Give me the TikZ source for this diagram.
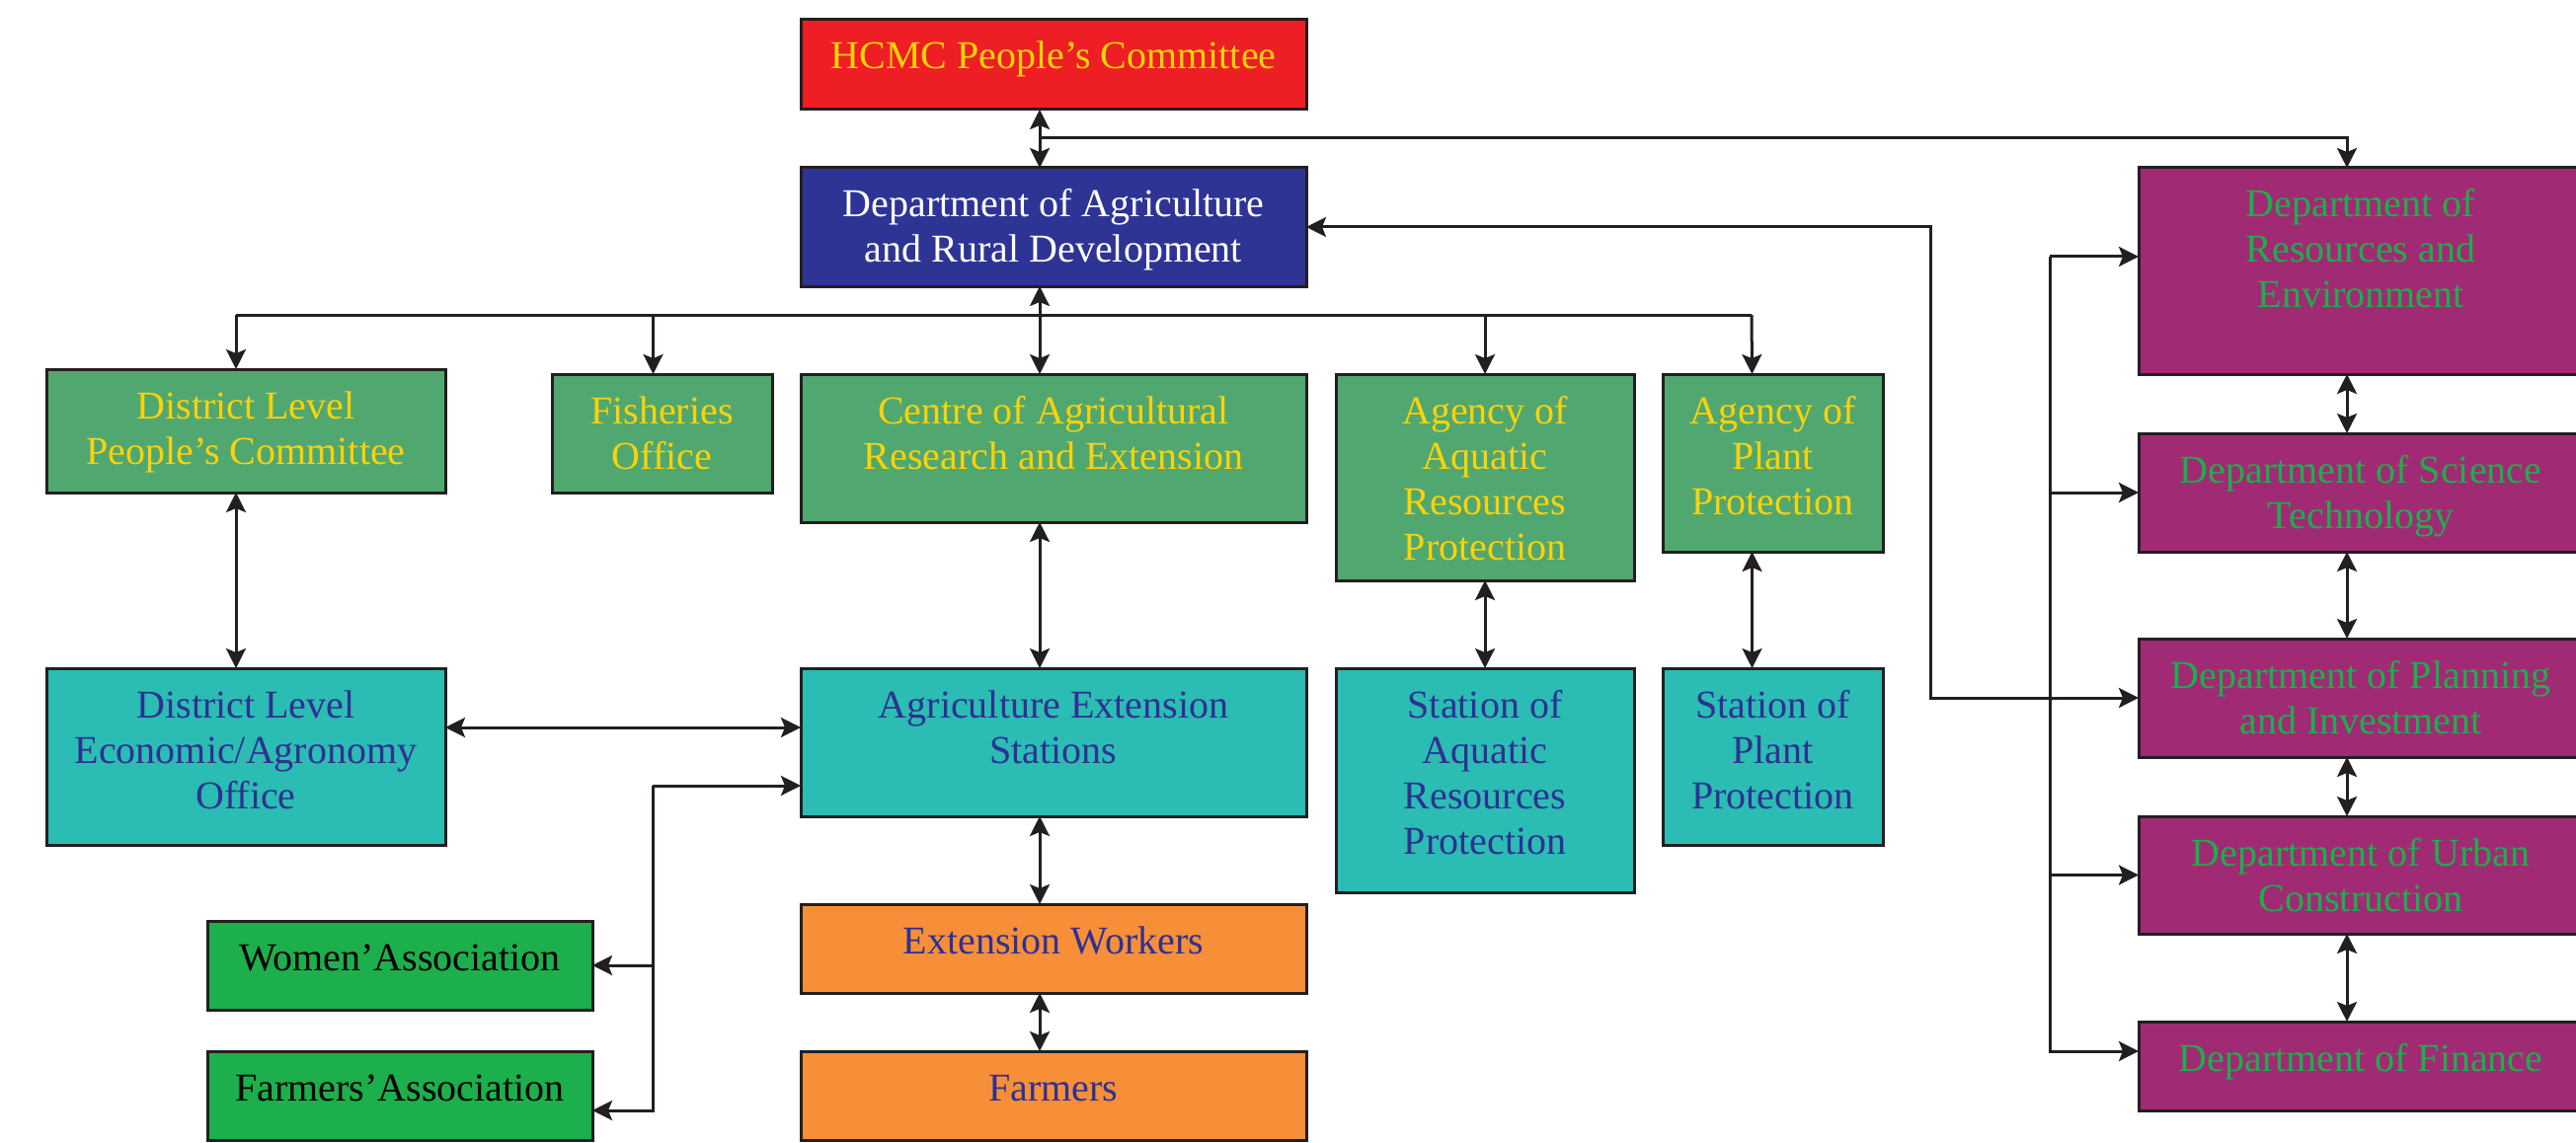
\documentclass[tikz,border=0pt]{standalone}
\usepackage{fontspec}
\setmainfont{Liberation Serif}
\usepackage{xcolor}
\usepackage{tikz}
\usetikzlibrary{positioning,arrows.meta}

\definecolor{hcmcred}{RGB}{237,31,36}
\definecolor{dardblue}{RGB}{46,52,148}
\definecolor{agencygreen}{RGB}{80,168,112}
\definecolor{stationteal}{RGB}{43,188,179}
\definecolor{workerorange}{RGB}{246,143,56}
\definecolor{assocgreen}{RGB}{28,175,75}
\definecolor{deptpurple}{RGB}{161,42,116}
\definecolor{txtyellow}{RGB}{252,210,10}
\definecolor{txtblue}{RGB}{46,49,146}
\definecolor{txtgreen}{RGB}{28,175,75}
\definecolor{linegray}{RGB}{35,31,32}

% box text: width, height, lines (top aligned)
\newcommand{\boxlines}[3]{\parbox[t][#2pt][t]{#1pt}{\centering\rule{0pt}{50pt}#3}}

\tikzset{
  box/.style={draw=linegray, line width=3pt, inner sep=0pt, outer sep=0pt, anchor=north west,
    font=\fontsize{40}{46}\selectfont},
  link/.style={draw=linegray, line width=3pt}
}

\begin{document}
\begin{tikzpicture}[x=1pt, y=-1pt, >={Stealth[length=20pt, width=20pt, inset=4pt]}]
    \useasboundingbox (0,0) rectangle (2609,1158);
    \clip (0,0) rectangle (2609,1158);

    % Top level
    \node[box, fill=hcmcred, text=txtyellow] (hcmc) at (811,20) {\boxlines{512}{91}{HCMC People’s Committee}};
    \node[box, fill=dardblue, text=white] (dard) at (811,170) {\boxlines{512}{120}{Department of Agriculture\\and Rural Development}};

    % Second row
    \node[box, fill=agencygreen, text=txtyellow] (dpc) at (47,374) {\boxlines{404}{125}{District Level\\People’s Committee}};
    \node[box, fill=agencygreen, text=txtyellow] (fish) at (559,379) {\boxlines{223}{120}{Fisheries\\Office}};
    \node[box, fill=agencygreen, text=txtyellow] (care) at (811,379) {\boxlines{512}{150}{Centre of Agricultural\\Research and Extension}};
    \node[box, fill=agencygreen, text=txtyellow] (aarp) at (1353,379) {\boxlines{302}{209}{Agency of\\Aquatic\\Resources\\Protection}};
    \node[box, fill=agencygreen, text=txtyellow] (app) at (1684,379) {\boxlines{223}{180}{Agency of\\Plant\\Protection}};

    % Third row
    \node[box, fill=stationteal, text=txtblue] (deo) at (47,677) {\boxlines{404}{179}{District Level\\Economic/Agronomy\\Office}};
    \node[box, fill=stationteal, text=txtblue] (aes) at (811,677) {\boxlines{512}{150}{Agriculture Extension\\Stations}};
    \node[box, fill=stationteal, text=txtblue] (sarp) at (1353,677) {\boxlines{302}{227}{Station of\\Aquatic\\Resources\\Protection}};
    \node[box, fill=stationteal, text=txtblue] (spp) at (1684,677) {\boxlines{223}{179}{Station of\\Plant\\Protection}};

    % Bottom rows
    \node[box, fill=assocgreen, text=black] (wa) at (210,933) {\boxlines{390}{90}{Women’Association}};
    \node[box, fill=assocgreen, text=black] (fa) at (210,1065) {\boxlines{390}{90}{Farmers’Association}};
    \node[box, fill=workerorange, text=txtblue] (ew) at (811,916) {\boxlines{512}{90}{Extension Workers}};
    \node[box, fill=workerorange, text=txtblue] (farm) at (811,1065) {\boxlines{512}{90}{Farmers}};

    % Other departments
    \node[box, fill=deptpurple, text=txtgreen] (dre) at (2166,170) {\boxlines{450}{209}{Department of\\Resources and\\Environment}};
    \node[box, fill=deptpurple, text=txtgreen] (dst) at (2166,439) {\boxlines{450}{120}{Department of Science\\Technology}};
    \node[box, fill=deptpurple, text=txtgreen] (dpi) at (2166,647) {\boxlines{450}{120}{Department of Planning\\and Investment}};
    \node[box, fill=deptpurple, text=txtgreen] (duc) at (2166,827) {\boxlines{450}{119}{Department of Urban\\Construction}};
    \node[box, fill=deptpurple, text=txtgreen] (dfin) at (2166,1035) {\boxlines{450}{90}{Department of Finance}};

    % Main spine
    \coordinate (tjoin) at (1053,140);
    \draw[link, <->] ([xshift=-14pt]hcmc.south) -- ([xshift=-14pt]dard.north);
    \draw[link, ->] (tjoin) -| ([xshift=-14pt]dre.north);
    \draw[link, <->] ([xshift=-14pt]dard.south) -- ([xshift=-14pt]care.north);
    \foreach \a/\b in {care/aes, aes/ew, ew/farm}
        \draw[link, <->] ([xshift=-14pt]\a.south) -- ([xshift=-14pt]\b.north);

    % Bus under the department
    \coordinate (busL) at (239,319);
    \coordinate (busR) at (1774,319);
    \draw[link] (busL) -- (busR);
    \draw[link, ->] (busL) -- ([xshift=-10pt]dpc.north);
    \draw[link, ->] ([xshift=-9pt]fish.north |- busL) -- ([xshift=-9pt]fish.north);
    \draw[link, ->] (aarp.north |- busL) -- (aarp.north);
    \draw[link, ->] (busR) -- ([xshift=-21pt]app.north);

    % Second to third row
    \draw[link, <->] ([xshift=-10pt]dpc.south) -- ([xshift=-10pt]deo.north);
    \draw[link, <->] (aarp.south) -- (sarp.north);
    \draw[link, <->] ([xshift=-21pt]app.south) -- ([xshift=-21pt]spp.north);
    \draw[link, <->] ([yshift=15pt]aes.west -| deo.east) -- ([yshift=15pt]aes.west);

    % Associations
    \coordinate (assoc) at (661,796);
    \draw[link, ->] (assoc) -- (aes.west |- assoc);
    \draw[link, ->] (assoc) |- (wa.east);
    \draw[link, ->] (assoc) |- ([yshift=-15pt]fa.east);

    % Departments side
    \draw[link, <->] (dard.east) -- ++(632,0) |- (dpi.west);
    \coordinate (dbus) at (2076,260);
    \draw[link, ->] (dbus) -- (dbus -| dre.west);
    \draw[link, ->] (dbus) |- ([yshift=15pt]dfin.west);
    \foreach \n in {dst, duc}
        \draw[link, ->] (dbus |- \n.west) -- (\n.west);
    \foreach \a/\b in {dre/dst, dst/dpi, dpi/duc, duc/dfin}
        \draw[link, <->] ([xshift=-14pt]\a.south) -- ([xshift=-14pt]\b.north);
\end{tikzpicture}
\end{document}
